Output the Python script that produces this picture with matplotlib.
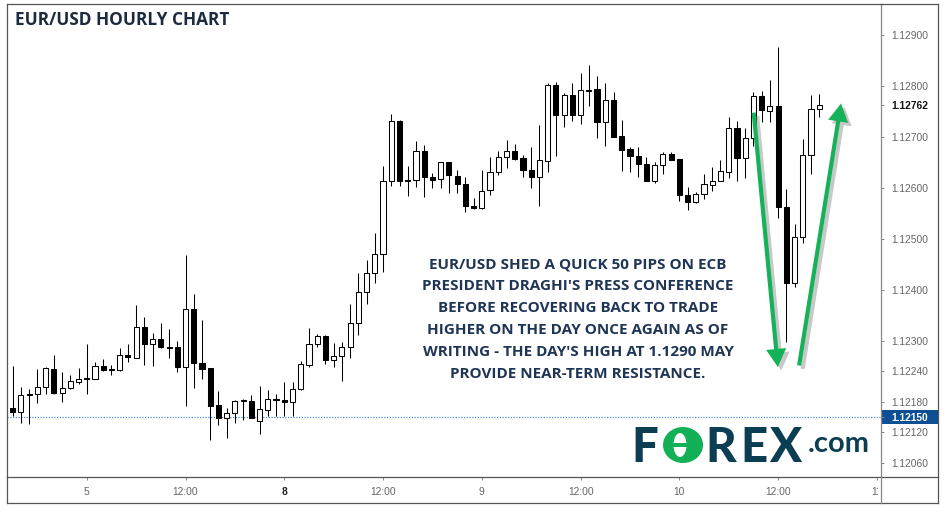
import matplotlib
matplotlib.use("Agg")
import matplotlib.pyplot as plt
import matplotlib.transforms as mtransforms
import matplotlib.patheffects as pe
from matplotlib.patches import Rectangle, Ellipse, FancyArrowPatch
from matplotlib.lines import Line2D

plt.rcParams['font.family'] = ['Liberation Sans', 'DejaVu Sans']

# ---------------- data ----------------
# hourly bar index (0 = 5 July 00:00, weekend hours skipped)
hours = list(range(-9, 90))
opens = [1.12167, 1.12161, 1.12196, 1.12195, 1.12210, 1.12245, 1.12197, 1.12207, 1.12219, 1.12225,
         1.12225, 1.12251, 1.12243, 1.12243, 1.12271, 1.12267, 1.12326, 1.12294, 1.12303, 1.12288,
         1.12287, 1.12248, 1.12362, 1.12257, 1.12246, 1.12173, 1.12148, 1.12158, 1.12182, 1.12182,
         1.12142, 1.12164, 1.12184, 1.12184, 1.12179, 1.12205, 1.12252, 1.12294, 1.12309, 1.12262,
         1.12270, 1.12287, 1.12334, 1.12396, 1.12432, 1.12470, 1.12614, 1.12731, 1.12614, 1.12615,
         1.12672, 1.12622, 1.12617, 1.12650, 1.12624, 1.12607, 1.12565, 1.12560, 1.12596, 1.12632,
         1.12660, 1.12673, 1.12658, 1.12636, 1.12622, 1.12653, 1.12802, 1.12742, 1.12782, 1.12743,
         1.12793, 1.12794, 1.12730, 1.12772, 1.12702, 1.12676, 1.12663, 1.12646, 1.12614, 1.12644,
         1.12666, 1.12656, 1.12586, 1.12572, 1.12587, 1.12606, 1.12614, 1.12632, 1.12717, 1.12658,
         1.12697, 1.12781, 1.12751, 1.12761, 1.12563, 1.12414, 1.12504, 1.12665, 1.12754]
highs = [1.12250, 1.12209, 1.12205, 1.12244, 1.12248, 1.12271, 1.12239, 1.12233, 1.12246, 1.12293,
         1.12258, 1.12264, 1.12252, 1.12285, 1.12293, 1.12370, 1.12346, 1.12315, 1.12334, 1.12322,
         1.12299, 1.12468, 1.12392, 1.12340, 1.12247, 1.12202, 1.12167, 1.12184, 1.12185, 1.12193,
         1.12212, 1.12203, 1.12195, 1.12218, 1.12218, 1.12261, 1.12324, 1.12313, 1.12311, 1.12296,
         1.12298, 1.12373, 1.12432, 1.12458, 1.12512, 1.12643, 1.12745, 1.12733, 1.12642, 1.12691,
         1.12684, 1.12630, 1.12651, 1.12651, 1.12636, 1.12622, 1.12580, 1.12635, 1.12660, 1.12673,
         1.12694, 1.12686, 1.12665, 1.12681, 1.12723, 1.12805, 1.12808, 1.12787, 1.12805, 1.12825,
         1.12841, 1.12820, 1.12806, 1.12789, 1.12733, 1.12680, 1.12681, 1.12661, 1.12651, 1.12671,
         1.12671, 1.12657, 1.12602, 1.12591, 1.12627, 1.12640, 1.12655, 1.12739, 1.12731, 1.12717,
         1.12789, 1.12791, 1.12812, 1.12876, 1.12597, 1.12529, 1.12696, 1.12782, 1.12784]
lows = [1.12152, 1.12138, 1.12136, 1.12177, 1.12195, 1.12195, 1.12179, 1.12206, 1.12215, 1.12195,
        1.12224, 1.12241, 1.12233, 1.12241, 1.12259, 1.12267, 1.12252, 1.12250, 1.12285, 1.12267,
        1.12239, 1.12172, 1.12207, 1.12224, 1.12105, 1.12135, 1.12110, 1.12139, 1.12144, 1.12148,
        1.12116, 1.12153, 1.12153, 1.12153, 1.12153, 1.12204, 1.12248, 1.12288, 1.12254, 1.12248,
        1.12220, 1.12266, 1.12311, 1.12372, 1.12414, 1.12434, 1.12604, 1.12604, 1.12584, 1.12601,
        1.12583, 1.12599, 1.12599, 1.12589, 1.12589, 1.12553, 1.12558, 1.12559, 1.12586, 1.12625,
        1.12638, 1.12655, 1.12621, 1.12599, 1.12564, 1.12631, 1.12663, 1.12719, 1.12732, 1.12725,
        1.12761, 1.12697, 1.12682, 1.12699, 1.12633, 1.12632, 1.12622, 1.12613, 1.12609, 1.12627,
        1.12654, 1.12574, 1.12557, 1.12570, 1.12578, 1.12594, 1.12613, 1.12619, 1.12614, 1.12619,
        1.12682, 1.12730, 1.12730, 1.12540, 1.12298, 1.12406, 1.12492, 1.12627, 1.12739]
closes = [1.12161, 1.12194, 1.12193, 1.12210, 1.12246, 1.12197, 1.12208, 1.12220, 1.12225, 1.12226,
          1.12251, 1.12243, 1.12245, 1.12271, 1.12268, 1.12326, 1.12293, 1.12303, 1.12287, 1.12286,
          1.12248, 1.12362, 1.12256, 1.12245, 1.12172, 1.12149, 1.12159, 1.12182, 1.12184, 1.12149,
          1.12165, 1.12186, 1.12186, 1.12180, 1.12206, 1.12254, 1.12294, 1.12309, 1.12262, 1.12270,
          1.12288, 1.12335, 1.12396, 1.12432, 1.12470, 1.12614, 1.12731, 1.12614, 1.12615, 1.12672,
          1.12622, 1.12615, 1.12650, 1.12625, 1.12608, 1.12565, 1.12560, 1.12594, 1.12632, 1.12660,
          1.12673, 1.12657, 1.12636, 1.12622, 1.12655, 1.12802, 1.12742, 1.12782, 1.12743, 1.12792,
          1.12791, 1.12730, 1.12772, 1.12700, 1.12674, 1.12663, 1.12646, 1.12614, 1.12644, 1.12666,
          1.12655, 1.12585, 1.12573, 1.12587, 1.12607, 1.12614, 1.12633, 1.12717, 1.12658, 1.12697,
          1.12781, 1.12752, 1.12760, 1.12563, 1.12414, 1.12504, 1.12665, 1.12754, 1.12762]

price_ticks = [1.12900, 1.12800, 1.12700, 1.12600, 1.12500, 1.12400, 1.12300,
               1.12240, 1.12180, 1.12120, 1.12060]
last_price = 1.12762
marker_price = 1.12150
time_ticks = [0, 12, 24, 36, 48, 60, 72, 84, 96]
time_labels = ["5", "12:00", "8", "12:00", "9", "12:00", "10", "12:00", "11"]

arrow_down = [(81.0, 1.12753), (84.0, 1.12243)]
arrow_up = [(86.5, 1.12246), (91.7, 1.12771)]

title = "EUR/USD HOURLY CHART"
note_lines = ["EUR/USD SHED A QUICK 50 PIPS ON ECB",
              "PRESIDENT DRAGHI'S PRESS CONFERENCE",
              "BEFORE RECOVERING BACK TO TRADE",
              "HIGHER ON THE DAY ONCE AGAIN AS OF",
              "WRITING - THE DAY'S HIGH AT 1.1290 MAY",
              "PROVIDE NEAR-TERM RESISTANCE."]

# ---------------- figure ----------------
W, H = 944, 508
fig = plt.figure(figsize=(W / 100, H / 100), dpi=100)
fig.patch.set_facecolor('white')


def fx(px):
    return px / W


def fy(py):
    return 1 - py / H


L, R, T, B = 6.5, 880.5, 3.5, 476.5
ax = fig.add_axes([fx(L), fy(B), fx(R - L), (B - T) / H])
ax.set_xlim(-9.75, 96.44)
ax.set_ylim(1.120335, 1.129618)
ax.set_facecolor('white')

# candles
ax.vlines(hours, lows, highs, colors='black', linewidth=0.75, zorder=2)
bottoms = [min(o, c) for o, c in zip(opens, closes)]
heights = [max(abs(c - o), 0.000004) for o, c in zip(opens, closes)]
fills = ['black' if c < o else 'white' for o, c in zip(opens, closes)]
ax.bar(hours, heights, bottom=bottoms, width=0.62, color=fills,
       edgecolor='black', linewidth=0.75, zorder=3)

# current price dotted line
ax.axhline(marker_price, color='#4f8fd0', linewidth=0.9,
           linestyle=(0, (1, 1.2)), zorder=1)

# axes styling
for side in ['left', 'top', 'bottom']:
    ax.spines[side].set_color('#555555')
    ax.spines[side].set_linewidth(0.9)
ax.spines['right'].set_color('#888888')
ax.spines['right'].set_linewidth(0.9)

ax.yaxis.tick_right()
yt = price_ticks + [last_price, marker_price]
ax.set_yticks(yt)
ax.set_yticklabels([f"{v:.5f}" for v in yt])
ax.tick_params(axis='y', direction='out', length=2.5, width=0.7, colors='#888888',
               labelcolor='#666666', labelsize=7.4, pad=5.5)
ax.set_xticks(time_ticks)
ax.set_xticklabels(time_labels)
ax.tick_params(axis='x', direction='out', length=2.5, width=0.7, colors='#888888',
               labelcolor='#666666', labelsize=7.4, pad=5)
for lab in ax.get_xticklabels():
    if lab.get_text() == "8":
        lab.set_color('#222222')
        lab.set_fontweight('bold')
ylabs = ax.get_yticklabels()
ylabs[-2].set_color('#111111')
ylabs[-2].set_fontweight('bold')
ylabs[-1].set_color('white')
ylabs[-1].set_fontweight('bold')

# box behind the current-price label
bt = mtransforms.blended_transform_factory(ax.transAxes, ax.transData)
ax.add_patch(Rectangle((1.0, marker_price - 0.000137), 57 / (R - L), 0.000275,
                       transform=bt, clip_on=False, facecolor='#0d4f94',
                       edgecolor='none', zorder=1.2))

# arrows
for (a, b) in [arrow_down, arrow_up]:
    arr = FancyArrowPatch(a, b, arrowstyle='simple,head_length=1.3,head_width=1.45,tail_width=0.3',
                          mutation_scale=10, color='#16b25a', lw=0, zorder=5,
                          path_effects=[pe.SimplePatchShadow(offset=(2.5, -2.5),
                                                             shadow_rgbFace='#777777', alpha=0.4),
                                        pe.Normal()])
    ax.add_patch(arr)

# title
fig.text(fx(15), fy(25), title, ha='left', va='baseline', fontsize=12.4,
         fontweight='bold', family=['Open Sans', 'DejaVu Sans'], color='#1c2b3e')

# annotation text
for i, line in enumerate(note_lines):
    fig.text(fx(578), fy(268.3 + 22 * i), line, ha='center', va='baseline',
             fontsize=11.0, fontweight='bold', family=['Open Sans', 'DejaVu Sans'],
             color='#1f3556')

# logo
teal = '#0b3d53'
green = '#13b157'
logo_font = ['Lato', 'DejaVu Sans']
for ch, cx in [("F", 644.5), ("R", 721), ("E", 754), ("X", 785.5)]:
    fig.text(fx(cx), fy(462), ch, ha='center', va='baseline', fontsize=34,
             fontweight='black', family=logo_font, color=teal)
fig.text(fx(808), fy(452), ".com", ha='left', va='baseline', fontsize=21,
         fontweight='bold', family=logo_font, color=teal)
fig.add_artist(Ellipse((fx(683), fy(445)), 40 / W, 36 / H, transform=fig.transFigure,
                       facecolor=green, edgecolor='none'))
fig.add_artist(Ellipse((fx(680), fy(445)), 13 / W, 24 / H, transform=fig.transFigure,
                       facecolor='white', edgecolor='none'))
fig.add_artist(Rectangle((fx(672), fy(447)), 31 / W, 4 / H, transform=fig.transFigure,
                         facecolor=green, edgecolor='none'))

# white cover for the clipped tick label under the price panel
fig.add_artist(Rectangle((fx(878), fy(503)), fx(937.5 - 878), (503 - B - 1.5) / H,
                         transform=fig.transFigure, facecolor='white',
                         edgecolor='none', zorder=3))
# outer frame lines
frame = [([L, L], [B, 503.3], '#555555'),
         ([L, 937.5], [503.3, 503.3], '#555555'),
         ([937.5, 937.5], [T, 503.3], '#555555'),
         ([R, 937.5], [T, T], '#555555'),
         ([R, 937.5], [B, B], '#555555'),
         ([R, R], [B, 503.3], '#888888')]
for xs, ys, col in frame:
    fig.add_artist(Line2D([fx(v) for v in xs], [fy(v) for v in ys],
                          transform=fig.transFigure, color=col, linewidth=0.9, zorder=4))

fig.savefig('out.png', dpi=100)
